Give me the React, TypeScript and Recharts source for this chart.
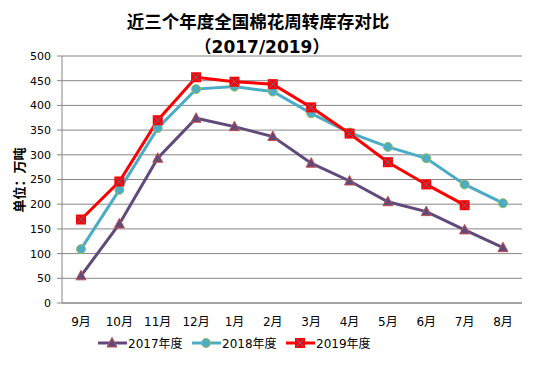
import React from "react";
import { LineChart, Line, XAxis, YAxis, CartesianGrid } from "recharts";

const months = ["9月", "10月", "11月", "12月", "1月", "2月", "3月", "4月", "5月", "6月", "7月", "8月"];
const y2017 = [55, 160, 293, 374, 357, 337, 283, 247, 205, 185, 148, 112];
const y2018 = [109, 229, 354, 433, 438, 428, 384, 345, 316, 293, 240, 202];
const y2019: (number | null)[] = [169, 246, 370, 457, 448, 443, 396, 343, 285, 240, 198, null];
const yTicks = [0, 50, 100, 150, 200, 250, 300, 350, 400, 450, 500];

const data = months.map((m, i) => ({ m, a: y2017[i], b: y2018[i], c: y2019[i] }));

const FONT = "'DejaVu Sans', 'Noto Sans CJK SC', sans-serif";

const Tri = (p: any) => {
  const { cx, cy } = p;
  if (cx == null || cy == null) return null;
  return <polygon points={`${cx},${cy - 5.5} ${cx + 5},${cy + 4} ${cx - 5},${cy + 4}`} fill="#604A7B" stroke="#C0504D" strokeWidth={1} />;
};
const Circ = (p: any) => {
  const { cx, cy } = p;
  if (cx == null || cy == null) return null;
  return <circle cx={cx} cy={cy} r={4.5} fill="#4BACC6" stroke="#9BBB59" strokeWidth={1} />;
};
const Sq = (p: any) => {
  const { cx, cy, value } = p;
  if (cx == null || cy == null || value == null) return null;
  return (
    <g>
      <rect x={cx - 5} y={cy - 5} width={10} height={10} fill="#FF0000" />
      <line x1={cx - 4} y1={cy - 4} x2={cx + 4} y2={cy + 4} stroke="#4F81BD" strokeWidth={0.8} />
      <line x1={cx + 4} y1={cy - 4} x2={cx - 4} y2={cy + 4} stroke="#4F81BD" strokeWidth={0.8} />
    </g>
  );
};

const legendItems = [
  { name: "2017年度", color: "#604A7B", shape: "tri" },
  { name: "2018年度", color: "#4BACC6", shape: "circ" },
  { name: "2019年度", color: "#FF0000", shape: "sq" },
];

const LegendSvg = () => (
  <svg width={300} height={20} style={{ position: "absolute", left: 98, top: 333 }}>
    {legendItems.map((it, i) => {
      const x0 = i * 94;
      const cx = x0 + 14;
      const cy = 10;
      return (
        <g key={it.name}>
          <line x1={x0} y1={cy} x2={x0 + 29} y2={cy} stroke={it.color} strokeWidth={3} />
          {it.shape === "tri" && <Tri cx={cx} cy={cy} />}
          {it.shape === "circ" && <Circ cx={cx} cy={cy} />}
          {it.shape === "sq" && <Sq cx={cx} cy={cy} value={1} />}
          <text x={x0 + 30} y={cy + 4.5} fontSize={12} fontFamily={FONT} fill="#000">{it.name}</text>
        </g>
      );
    })}
  </svg>
);

export default function App() {
  return (
    <div style={{ position: "absolute", left: 0, top: 0, width: 554, height: 369, background: "#fff" }}>
      <LineChart width={554} height={369} data={data} margin={{ top: 56, right: 32, left: 0, bottom: 36 }}>
        <text x={258} y={28} textAnchor="middle" fontSize={17.5} fontWeight="bold" fontFamily={FONT} fill="#000">近三个年度全国棉花周转库存对比</text>
        <text x={262} y={53} textAnchor="middle" fontSize={17} fontWeight="bold" fontFamily={FONT} fill="#000">（2017/2019）</text>
        <text x={19} y={180} textAnchor="middle" fontSize={13} fontWeight="bold" fontFamily={FONT} fill="#000" transform="rotate(-90 19 180)" dominantBaseline="central">单位：万吨</text>
        <CartesianGrid vertical={false} stroke="#868686" strokeWidth={1} />
        <XAxis dataKey="m" interval={0} tickLine={false} axisLine={{ stroke: "#868686" }} height={30}
          padding={{ left: 19, right: 19 }}
          tick={{ fontSize: 12, fill: "#000", fontFamily: FONT }} tickMargin={8} />
        <YAxis width={62} domain={[0, 500]} ticks={yTicks} interval={0} tickSize={5} tickMargin={6}
          tickLine={{ stroke: "#868686" }} axisLine={{ stroke: "#868686" }}
          tick={{ fontSize: 11, fill: "#000", fontFamily: FONT }} />
        <Line dataKey="a" name="2017年度" stroke="#604A7B" strokeWidth={3} dot={<Tri />} isAnimationActive={false} />
        <Line dataKey="b" name="2018年度" stroke="#4BACC6" strokeWidth={3} dot={<Circ />} isAnimationActive={false} />
        <Line dataKey="c" name="2019年度" stroke="#FF0000" strokeWidth={3} dot={<Sq />} isAnimationActive={false} />
      </LineChart>
      <LegendSvg />
    </div>
  );
}
